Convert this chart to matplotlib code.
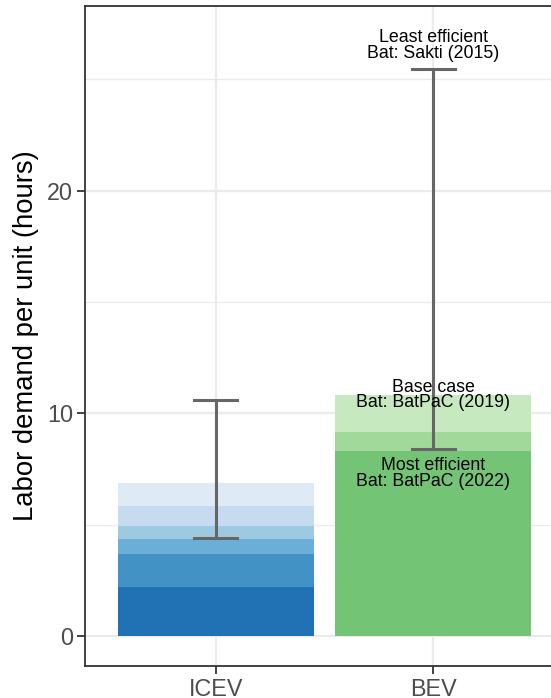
import matplotlib.pyplot as plt
from matplotlib.ticker import MultipleLocator

plt.rcParams['font.family'] = ['Liberation Sans', 'DejaVu Sans']

# Data
vehicles = ['ICEV', 'BEV']
icev_parts = [2.20, 1.49, 0.67, 0.60, 0.90, 1.00]
icev_colors = ['#2171b5', '#4292c6', '#6baed6', '#9ecae1', '#c6dbef', '#deebf7']
bev_parts = [8.33, 0.85, 1.65]
bev_colors = ['#74c476', '#a1d99b', '#c7e9c0']
err_low = [4.40, 8.42]
err_high = [10.61, 25.48]

fig = plt.figure(figsize=(5.51, 6.98), dpi=100)
ax = fig.add_axes([85 / 551, 32 / 698, 479 / 551, 660 / 698])

xpos = [1, 2]
bottom = 0
for val, col in zip(icev_parts, icev_colors):
    ax.bar(xpos[0], val, bottom=bottom, width=0.9, color=col, zorder=2)
    bottom += val
bottom = 0
for val, col in zip(bev_parts, bev_colors):
    ax.bar(xpos[1], val, bottom=bottom, width=0.9, color=col, zorder=2)
    bottom += val

# error bars (range of estimates)
for x, lo, hi in zip(xpos, err_low, err_high):
    ax.plot([x, x], [lo, hi], color='#666666', lw=2.2, zorder=3, solid_capstyle='butt')
    ax.plot([x - 0.1, x + 0.1], [lo, lo], color='#666666', lw=2.2, zorder=3)
    ax.plot([x - 0.1, x + 0.1], [hi, hi], color='#666666', lw=2.2, zorder=3)

bev_top = sum(bev_parts)
txt = dict(ha='center', va='center', fontsize=12.8, linespacing=0.88, zorder=4)
ax.text(2, err_high[1] + 1.05, 'Least efficient\nBat: Sakti (2015)', **txt)
ax.text(2, bev_top, 'Base case\nBat: BatPaC (2019)', **txt)
ax.text(2, 7.3, 'Most efficient\nBat: BatPaC (2022)', **txt)

ax.set_xlim(0.4, 2.6)
ax.set_ylim(-1.35, 28.3)
ax.set_xticks(xpos)
ax.set_xticklabels(vehicles)
ax.yaxis.set_major_locator(MultipleLocator(10))
ax.yaxis.set_minor_locator(MultipleLocator(5))
ax.set_ylabel('Labor demand per unit (hours)', fontsize=19.8, labelpad=6)

ax.grid(True, which='major', color='#EBEBEB', lw=1.6, zorder=0)
ax.grid(True, which='minor', axis='y', color='#EBEBEB', lw=0.9, zorder=0)
ax.set_axisbelow(True)
ax.tick_params(axis='both', which='major', length=5.5, width=1.3, color='#333333',
               labelcolor='#4D4D4D', labelsize=16.8, pad=3)
ax.tick_params(axis='y', which='minor', length=0)
for s in ax.spines.values():
    s.set_color('#333333')
    s.set_linewidth(1.3)

fig.savefig('out.png', dpi=100)
